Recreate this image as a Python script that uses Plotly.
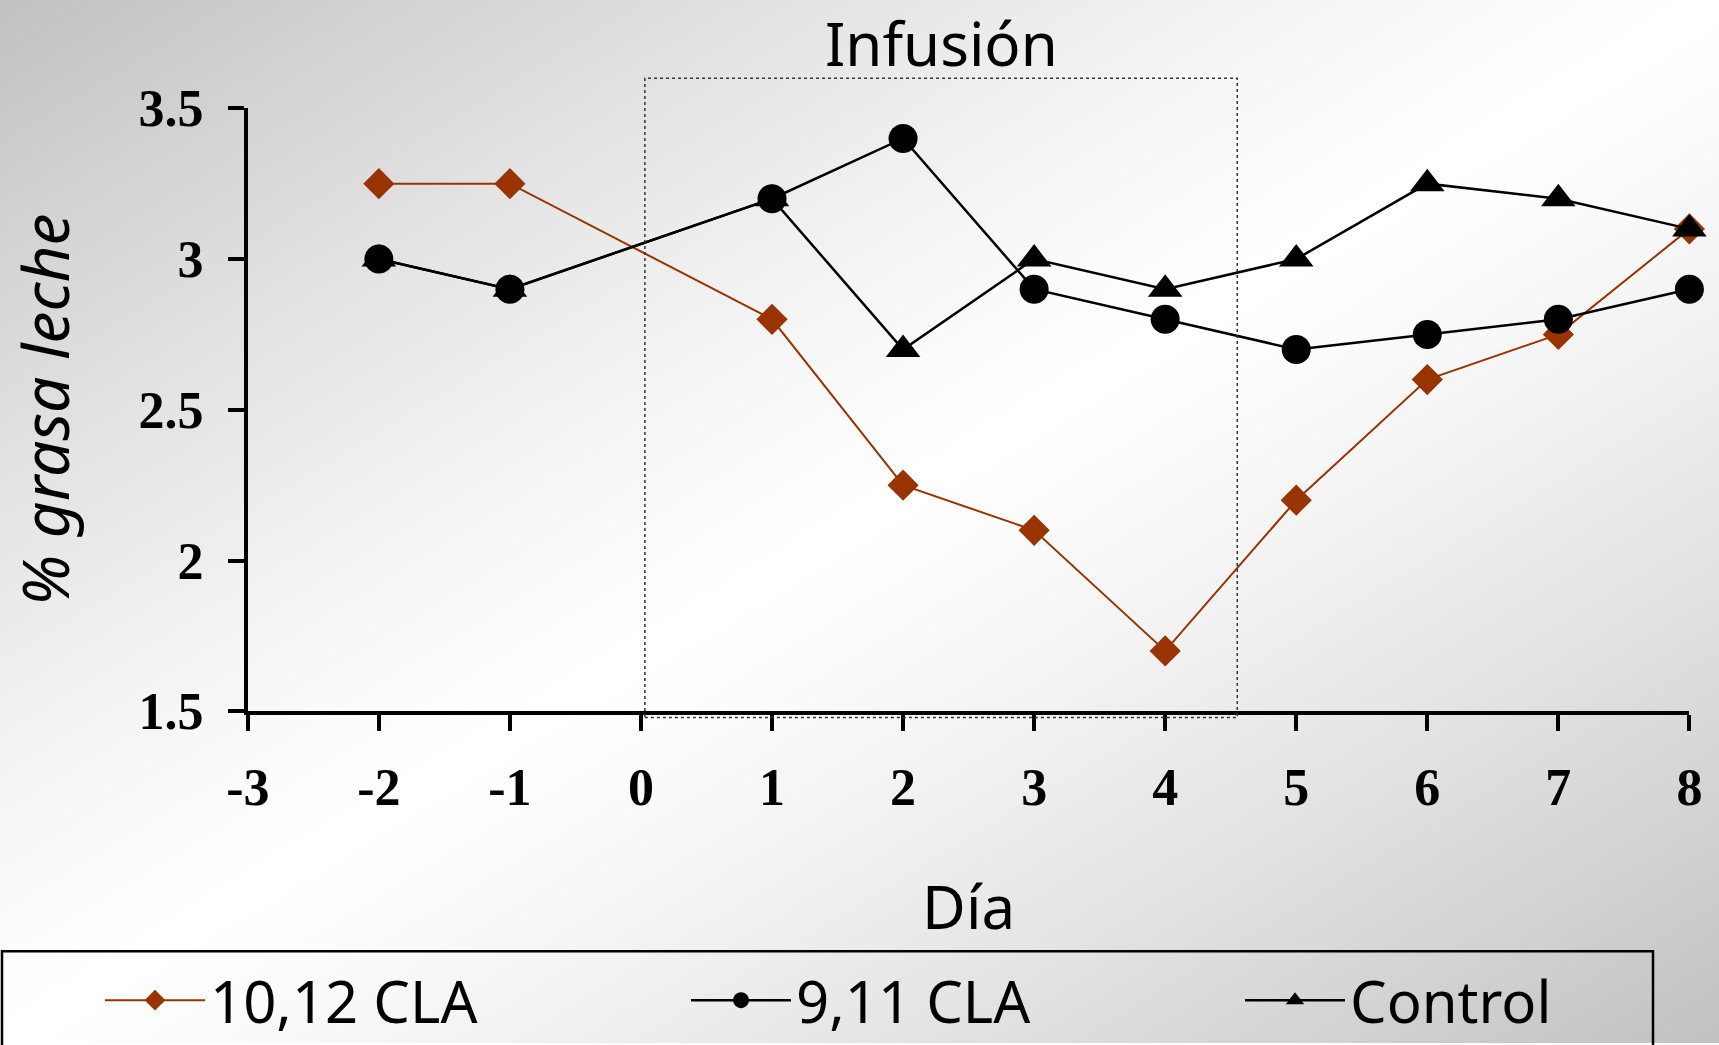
import numpy as np
import plotly.graph_objects as go

# ---------------- data ----------------
days = [-2, -1, 1, 2, 3, 4, 5, 6, 7, 8]
cla_10_12 = [3.25, 3.25, 2.80, 2.25, 2.10, 1.70, 2.20, 2.60, 2.75, 3.10]
cla_9_11 = [3.00, 2.90, 3.20, 3.40, 2.90, 2.80, 2.70, 2.75, 2.80, 2.90]
control = [3.00, 2.90, 3.20, 2.70, 3.00, 2.90, 3.00, 3.25, 3.20, 3.10]
series_names = ["10,12 CLA", "9,11 CLA", "Control"]
x_ticks = list(range(-3, 9))
x_tick_text = [str(v) for v in x_ticks]
y_ticks = [1.5, 2, 2.5, 3, 3.5]
y_tick_text = ["1.5", "2", "2.5", "3", "3.5"]
infusion_start, infusion_end = 0.03, 4.55
infusion_top, infusion_bottom = 3.6, 1.479

# ---------------- layout constants ----------------
W, H = 1719, 1045
X_RANGE = [-3, 8]
Y_RANGE = [1.5, 3.5]
px_left, px_right = 247.8, 1689.4
px_top, px_bottom = 108.5, 712.6
xdom = [px_left / W, px_right / W]
ydom = [1 - px_bottom / H, 1 - px_top / H]

BROWN = "#993300"
COMIC = "Comic Sans MS, Noto Sans, DejaVu Sans, sans-serif"
SERIF = "Liberation Serif, Times New Roman, serif"

fig = go.Figure()

# background diagonal gradient (decorative) on hidden full-figure axes
gx = np.linspace(0, W, 120)
gy = np.linspace(0, H, 80)
GX, GY = np.meshgrid(gx, gy)
t = (GX / W + GY / H) / 2.0
z = 255 - 62 * np.abs(2 * t - 1) ** 1.25
fig.add_trace(go.Heatmap(
    x=gx, y=gy, z=z, xaxis="x", yaxis="y",
    colorscale=[[0, "rgb(0,0,0)"], [1, "rgb(255,255,255)"]],
    zmin=0, zmax=255, zsmooth="best", showscale=False,
    hoverinfo="skip", showlegend=False,
))

fig.add_trace(go.Scatter(
    x=days, y=cla_10_12, name=series_names[0], mode="lines+markers",
    line=dict(color=BROWN, width=2),
    marker=dict(symbol="diamond", size=24, color=BROWN),
    xaxis="x2", yaxis="y2", cliponaxis=False, legend="legend",
))
fig.add_trace(go.Scatter(
    x=days, y=cla_9_11, name=series_names[1], mode="lines+markers",
    line=dict(color="black", width=2.5),
    marker=dict(symbol="circle", size=29, color="black"),
    xaxis="x2", yaxis="y2", cliponaxis=False, legend="legend2",
))
fig.add_trace(go.Scatter(
    x=days, y=control, name=series_names[2], mode="lines+markers",
    line=dict(color="black", width=2.5),
    marker=dict(symbol="triangle-up", size=30, color="black"),
    xaxis="x2", yaxis="y2", cliponaxis=False, legend="legend3",
))

def to_xdom(v):
    return (v - X_RANGE[0]) / (X_RANGE[1] - X_RANGE[0])

def to_ydom(v):
    return (v - Y_RANGE[0]) / (Y_RANGE[1] - Y_RANGE[0])

shapes = [
    # infusion box
    dict(type="rect", xref="x2 domain", yref="y2 domain",
         x0=to_xdom(infusion_start), x1=to_xdom(infusion_end),
         y0=to_ydom(infusion_bottom), y1=to_ydom(infusion_top),
         line=dict(color="#333333", width=1.5, dash="dot"),
         fillcolor="rgba(0,0,0,0)", layer="above"),
    # legend frame
    dict(type="rect", xref="paper", yref="paper",
         x0=2 / W, x1=1653 / W, y0=-0.05, y1=1 - 953 / H,
         line=dict(color="black", width=2.5),
         fillcolor="rgba(0,0,0,0)", layer="above"),
]

legend_common = dict(
    orientation="h", xanchor="left", y=1 - 958 / H, yanchor="top",
    font=dict(family=COMIC, size=58, color="black"),
    bgcolor="rgba(0,0,0,0)", borderwidth=0, itemwidth=100,
)

fig.update_layout(
    width=W, height=H,
    margin=dict(l=0, r=0, t=0, b=0, pad=0),
    paper_bgcolor="white",
    plot_bgcolor="rgba(0,0,0,0)",
    xaxis=dict(domain=[0, 1], range=[0, W], visible=False, fixedrange=True),
    yaxis=dict(domain=[0, 1], range=[H, 0], visible=False, fixedrange=True),
    xaxis2=dict(
        domain=xdom, range=X_RANGE, anchor="y2",
        tickmode="array", tickvals=x_ticks, ticktext=x_tick_text,
        showgrid=False, zeroline=False,
        showline=True, linecolor="black", linewidth=4,
        ticks="outside", ticklen=16, tickwidth=4, tickcolor="black",
        ticklabelstandoff=11,
        tickfont=dict(family=SERIF, size=52, color="black", weight="bold"),
        title=dict(text="Día", font=dict(family=COMIC, size=60, color="black"),
                   standoff=73),
        automargin=False,
    ),
    yaxis2=dict(
        domain=ydom, range=Y_RANGE, anchor="x2",
        tickmode="array", tickvals=y_ticks, ticktext=y_tick_text,
        showgrid=False, zeroline=False,
        showline=True, linecolor="black", linewidth=4,
        ticks="outside", ticklen=16, tickwidth=4, tickcolor="black",
        ticklabelstandoff=14,
        tickfont=dict(family=SERIF, size=52, color="black", weight="bold"),
        title=dict(text="% grasa leche",
                   font=dict(family=COMIC, size=64, color="black", style="italic"),
                   standoff=49),
        automargin=False,
    ),
    shapes=shapes,
    annotations=[
        dict(text="Infusión", xref="x2", yref="paper",
             x=(infusion_start + infusion_end) / 2, y=1 - 43 / H,
             xanchor="center", yanchor="middle", showarrow=False,
             font=dict(family=COMIC, size=60, color="black")),
    ],
    showlegend=True,
    legend=dict(x=100 / W, **legend_common),
    legend2=dict(x=686 / W, **legend_common),
    legend3=dict(x=1240 / W, **legend_common),
)

fig.write_html("out.html", config={"displayModeBar": False},
               post_script="document.body.style.margin='0';")
